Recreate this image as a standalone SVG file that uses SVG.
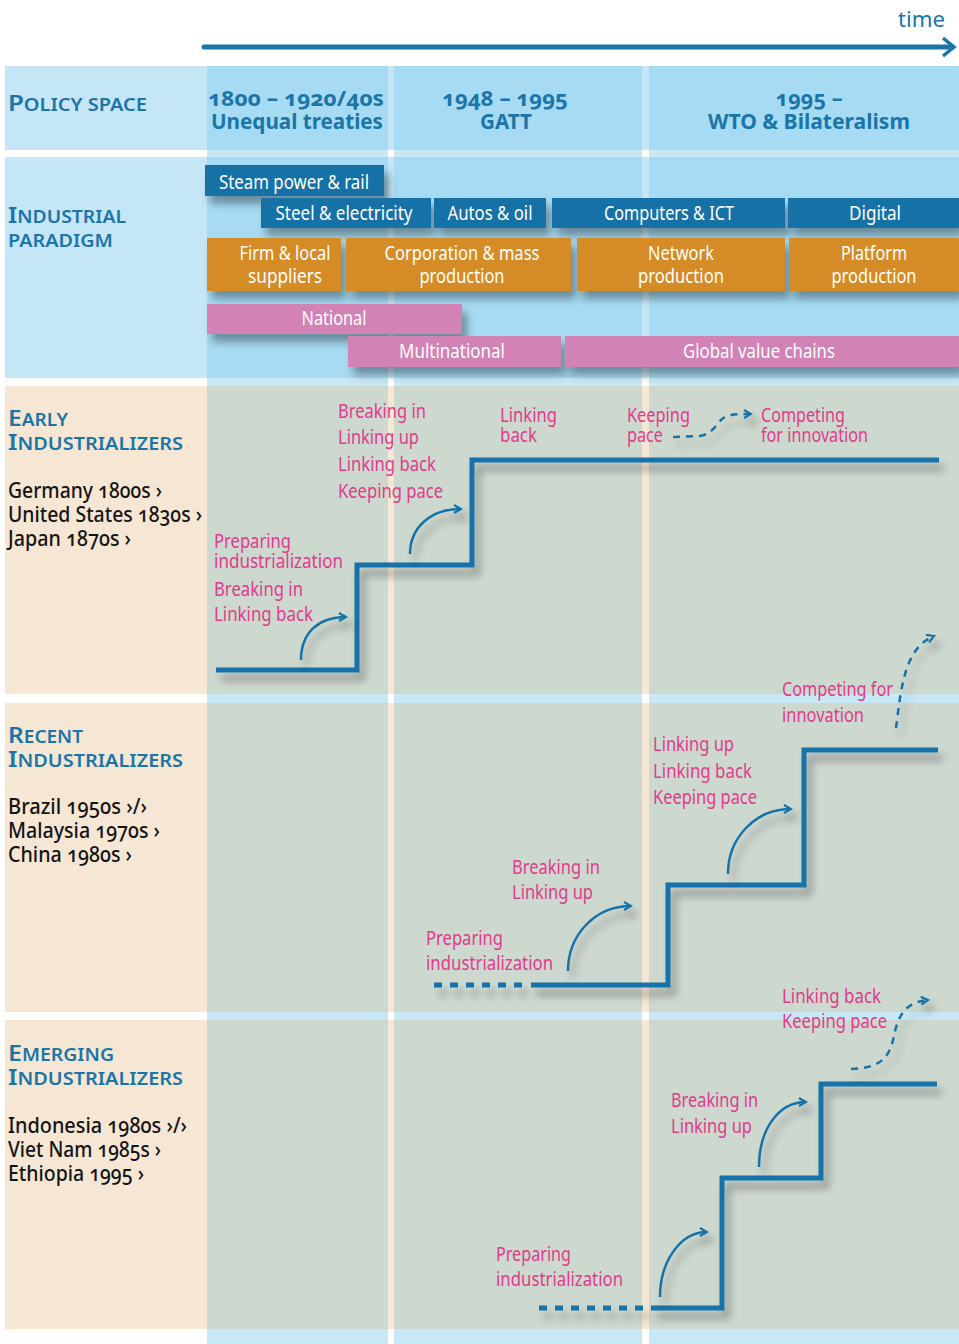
<svg xmlns="http://www.w3.org/2000/svg" width="959" height="1344" viewBox="0 0 959 1344">
<defs>
<style>
text{font-family:"Noto Sans","Liberation Sans",sans-serif;font-variant-numeric:oldstyle-nums;}
.hd{fill:#1b75a9;font-weight:700;font-size:22px;text-anchor:middle}
.lab{fill:#1b75a9;font-weight:600}
.cty{fill:#141414;font-size:22px;font-weight:500}
.pk{fill:#e23b8b;font-size:20px}
.bx{fill:#fff;font-size:19px;text-anchor:middle}
.blue{fill:#1271a6}.org{fill:#d58b25}.pnk{fill:#d382b5}
.stair{fill:none;stroke:#1472a8;stroke-width:5}
.arr{fill:none;stroke:#1472a8;stroke-width:2.5;marker-end:url(#ah)}
.dash{stroke-dasharray:7 6}
.dots{fill:none;stroke:#1472a8;stroke-width:5;stroke-dasharray:8 8}
</style>
<marker id="ah" viewBox="0 0 10 10" refX="8" refY="5" markerWidth="4" markerHeight="4" orient="auto" markerUnits="strokeWidth">
<path d="M1,1 L8,5 L1,9" fill="none" stroke="#1472a8" stroke-width="2.2" stroke-dasharray="none"/>
</marker>
<filter id="sh" filterUnits="userSpaceOnUse" x="0" y="0" width="959" height="1344">
<feGaussianBlur in="SourceAlpha" stdDeviation="4.5"/>
<feOffset dx="5" dy="8" result="o"/>
<feComponentTransfer><feFuncA type="linear" slope="0.36"/></feComponentTransfer>
<feMerge><feMergeNode/><feMergeNode in="SourceGraphic"/></feMerge>
</filter>
</defs>

<rect width="959" height="1344" fill="#fff"/>

<g id="background">
<rect x="207" y="66" width="181" height="1278" fill="#c8e8f6"/>
<rect x="394" y="66" width="248" height="1278" fill="#c8e8f6"/>
<rect x="649" y="66" width="310" height="1278" fill="#c8e8f6"/>
<rect x="5" y="66" width="954" height="84" fill="#c5e6f6"/>
<rect x="5" y="157" width="954" height="221" fill="#c5e6f6"/>
<g fill="#a6dbf3">
<rect x="207" y="66" width="181" height="84"/><rect x="394" y="66" width="248" height="84"/><rect x="649" y="66" width="310" height="84"/>
<rect x="207" y="157" width="181" height="221"/><rect x="394" y="157" width="248" height="221"/><rect x="649" y="157" width="310" height="221"/>
</g>
<g fill="#f6e7d5">
<rect x="5" y="386" width="954" height="308"/>
<rect x="5" y="703" width="954" height="309"/>
<rect x="5" y="1020" width="954" height="309"/>
</g>
<g fill="#cdd8cf">
<rect x="207" y="386" width="181" height="308"/><rect x="394" y="386" width="248" height="308"/><rect x="649" y="386" width="310" height="308"/>
<rect x="207" y="703" width="181" height="309"/><rect x="394" y="703" width="248" height="309"/><rect x="649" y="703" width="310" height="309"/>
<rect x="207" y="1020" width="181" height="309"/><rect x="394" y="1020" width="248" height="309"/><rect x="649" y="1020" width="310" height="309"/>
</g>
</g>

<g id="time-axis">
<line x1="204" y1="47" x2="952" y2="47" stroke="#1b75a9" stroke-width="5" stroke-linecap="round"/>
<path d="M943,38 L954,47 L943,56" fill="none" stroke="#1b75a9" stroke-width="3.5"/>
<text x="898" y="27" fill="#1b75a9" font-size="22" textLength="47" lengthAdjust="spacingAndGlyphs">time</text>
</g>

<g id="policy-space">
<text class="lab" x="8" y="111" textLength="139" lengthAdjust="spacingAndGlyphs"><tspan font-size="22">P</tspan><tspan font-size="17">OLICY SPACE</tspan></text>
<g id="period-1800">
<text class="hd" x="296" y="106" textLength="176" lengthAdjust="spacingAndGlyphs">1800 – 1920/40s</text>
<text class="hd" x="297" y="129" textLength="172" lengthAdjust="spacingAndGlyphs">Unequal treaties</text>
</g>
<g id="period-1948">
<text class="hd" x="505" y="106" textLength="126" lengthAdjust="spacingAndGlyphs">1948 – 1995</text>
<text class="hd" x="506" y="129" textLength="52" lengthAdjust="spacingAndGlyphs">GATT</text>
</g>
<g id="period-1995">
<text class="hd" x="809" y="106" textLength="67" lengthAdjust="spacingAndGlyphs">1995 –</text>
<text class="hd" x="809" y="129" textLength="202" lengthAdjust="spacingAndGlyphs">WTO &amp; Bilateralism</text>
</g>
</g>

<g id="industrial-paradigm">
<text class="lab" x="8" y="223" textLength="118" lengthAdjust="spacingAndGlyphs"><tspan font-size="22">I</tspan><tspan font-size="17">NDUSTRIAL</tspan></text>
<text class="lab" x="8" y="247" font-size="17" textLength="105" lengthAdjust="spacingAndGlyphs">PARADIGM</text>

<g id="steam" filter="url(#sh)"><rect class="blue" x="205" y="165" width="179" height="31"/></g>
<text class="bx" x="294" y="189" textLength="150" lengthAdjust="spacingAndGlyphs">Steam power &amp; rail</text>
<g id="boxes-tech" filter="url(#sh)">
<rect class="blue" x="261" y="198" width="170" height="30"/>
<rect class="blue" x="434" y="198" width="112" height="30"/>
<rect class="blue" x="552" y="198" width="233" height="30"/>
<rect class="blue" x="788" y="198" width="171" height="30"/>
</g>
<text class="bx" x="344" y="220" textLength="137" lengthAdjust="spacingAndGlyphs">Steel &amp; electricity</text>
<text class="bx" x="490" y="220" textLength="85" lengthAdjust="spacingAndGlyphs">Autos &amp; oil</text>
<text class="bx" x="669" y="220" textLength="130" lengthAdjust="spacingAndGlyphs">Computers &amp; ICT</text>
<text class="bx" x="875" y="220" textLength="52" lengthAdjust="spacingAndGlyphs">Digital</text>

<g id="boxes-org" filter="url(#sh)">
<rect class="org" x="207" y="238" width="134" height="53"/>
<rect class="org" x="346" y="238" width="225" height="53"/>
<rect class="org" x="577" y="238" width="208" height="53"/>
<rect class="org" x="789" y="238" width="170" height="53"/>
</g>
<text class="bx" x="285" y="260" textLength="91" lengthAdjust="spacingAndGlyphs">Firm &amp; local</text>
<text class="bx" x="285" y="283" textLength="74" lengthAdjust="spacingAndGlyphs">suppliers</text>
<text class="bx" x="462" y="260" textLength="155" lengthAdjust="spacingAndGlyphs">Corporation &amp; mass</text>
<text class="bx" x="462" y="283" textLength="85" lengthAdjust="spacingAndGlyphs">production</text>
<text class="bx" x="681" y="260" textLength="66" lengthAdjust="spacingAndGlyphs">Network</text>
<text class="bx" x="681" y="283" textLength="86" lengthAdjust="spacingAndGlyphs">production</text>
<text class="bx" x="874" y="260" textLength="66" lengthAdjust="spacingAndGlyphs">Platform</text>
<text class="bx" x="874" y="283" textLength="85" lengthAdjust="spacingAndGlyphs">production</text>

<g id="boxes-scope" filter="url(#sh)">
<rect class="pnk" x="207" y="304" width="255" height="30"/>
<rect class="pnk" x="348" y="336" width="213" height="31"/>
<rect class="pnk" x="565" y="336" width="394" height="31"/>
</g>
<text class="bx" x="334" y="325" textLength="65" lengthAdjust="spacingAndGlyphs">National</text>
<text class="bx" x="452" y="358" textLength="106" lengthAdjust="spacingAndGlyphs">Multinational</text>
<text class="bx" x="759" y="358" textLength="152" lengthAdjust="spacingAndGlyphs">Global value chains</text>
</g>

<g id="early-industrializers">
<text class="lab" x="8" y="426" textLength="60" lengthAdjust="spacingAndGlyphs"><tspan font-size="22">E</tspan><tspan font-size="17">ARLY</tspan></text>
<text class="lab" x="8" y="450" textLength="175" lengthAdjust="spacingAndGlyphs"><tspan font-size="22">I</tspan><tspan font-size="17">NDUSTRIALIZERS</tspan></text>
<text class="cty" x="8" y="498" textLength="154" lengthAdjust="spacingAndGlyphs">Germany 1800s ›</text>
<text class="cty" x="8" y="522" textLength="194" lengthAdjust="spacingAndGlyphs">United States 1830s ›</text>
<text class="cty" x="8" y="546" textLength="123" lengthAdjust="spacingAndGlyphs">Japan 1870s ›</text>
<g class="stage-labels">
<text class="pk" x="214" y="548" textLength="77" lengthAdjust="spacingAndGlyphs">Preparing</text>
<text class="pk" x="214" y="568" textLength="129" lengthAdjust="spacingAndGlyphs">industrialization</text>
<text class="pk" x="214" y="596" textLength="89" lengthAdjust="spacingAndGlyphs">Breaking in</text>
<text class="pk" x="214" y="621" textLength="99" lengthAdjust="spacingAndGlyphs">Linking back</text>
<text class="pk" x="338" y="418" textLength="88" lengthAdjust="spacingAndGlyphs">Breaking in</text>
<text class="pk" x="338" y="444" textLength="81" lengthAdjust="spacingAndGlyphs">Linking up</text>
<text class="pk" x="338" y="471" textLength="98" lengthAdjust="spacingAndGlyphs">Linking back</text>
<text class="pk" x="338" y="498" textLength="105" lengthAdjust="spacingAndGlyphs">Keeping pace</text>
<text class="pk" x="500" y="422" textLength="57" lengthAdjust="spacingAndGlyphs">Linking</text>
<text class="pk" x="500" y="442" textLength="37" lengthAdjust="spacingAndGlyphs">back</text>
<text class="pk" x="627" y="422" textLength="63" lengthAdjust="spacingAndGlyphs">Keeping</text>
<text class="pk" x="627" y="442" textLength="36" lengthAdjust="spacingAndGlyphs">pace</text>
<text class="pk" x="761" y="422" textLength="84" lengthAdjust="spacingAndGlyphs">Competing</text>
<text class="pk" x="761" y="442" textLength="107" lengthAdjust="spacingAndGlyphs">for innovation</text>
</g>
</g>

<g id="recent-industrializers">
<text class="lab" x="8" y="743" textLength="75" lengthAdjust="spacingAndGlyphs"><tspan font-size="22">R</tspan><tspan font-size="17">ECENT</tspan></text>
<text class="lab" x="8" y="767" textLength="175" lengthAdjust="spacingAndGlyphs"><tspan font-size="22">I</tspan><tspan font-size="17">NDUSTRIALIZERS</tspan></text>
<text class="cty" x="8" y="814" textLength="139" lengthAdjust="spacingAndGlyphs">Brazil 1950s ›/›</text>
<text class="cty" x="8" y="838" textLength="152" lengthAdjust="spacingAndGlyphs">Malaysia 1970s ›</text>
<text class="cty" x="8" y="862" textLength="124" lengthAdjust="spacingAndGlyphs">China 1980s ›</text>
<g class="stage-labels">
<text class="pk" x="426" y="945" textLength="77" lengthAdjust="spacingAndGlyphs">Preparing</text>
<text class="pk" x="426" y="970" textLength="127" lengthAdjust="spacingAndGlyphs">industrialization</text>
<text class="pk" x="512" y="874" textLength="88" lengthAdjust="spacingAndGlyphs">Breaking in</text>
<text class="pk" x="512" y="899" textLength="81" lengthAdjust="spacingAndGlyphs">Linking up</text>
<text class="pk" x="653" y="751" textLength="81" lengthAdjust="spacingAndGlyphs">Linking up</text>
<text class="pk" x="653" y="778" textLength="99" lengthAdjust="spacingAndGlyphs">Linking back</text>
<text class="pk" x="653" y="804" textLength="104" lengthAdjust="spacingAndGlyphs">Keeping pace</text>
<text class="pk" x="782" y="696" textLength="111" lengthAdjust="spacingAndGlyphs">Competing for</text>
<text class="pk" x="782" y="722" textLength="82" lengthAdjust="spacingAndGlyphs">innovation</text>
</g>
</g>

<g id="emerging-industrializers">
<text class="lab" x="8" y="1061" textLength="106" lengthAdjust="spacingAndGlyphs"><tspan font-size="22">E</tspan><tspan font-size="17">MERGING</tspan></text>
<text class="lab" x="8" y="1085" textLength="175" lengthAdjust="spacingAndGlyphs"><tspan font-size="22">I</tspan><tspan font-size="17">NDUSTRIALIZERS</tspan></text>
<text class="cty" x="8" y="1133" textLength="179" lengthAdjust="spacingAndGlyphs">Indonesia 1980s ›/›</text>
<text class="cty" x="8" y="1157" textLength="153" lengthAdjust="spacingAndGlyphs">Viet Nam 1985s ›</text>
<text class="cty" x="8" y="1181" textLength="136" lengthAdjust="spacingAndGlyphs">Ethiopia 1995 ›</text>
<g class="stage-labels">
<text class="pk" x="496" y="1261" textLength="75" lengthAdjust="spacingAndGlyphs">Preparing</text>
<text class="pk" x="496" y="1286" textLength="127" lengthAdjust="spacingAndGlyphs">industrialization</text>
<text class="pk" x="671" y="1107" textLength="87" lengthAdjust="spacingAndGlyphs">Breaking in</text>
<text class="pk" x="671" y="1133" textLength="81" lengthAdjust="spacingAndGlyphs">Linking up</text>
<text class="pk" x="782" y="1003" textLength="99" lengthAdjust="spacingAndGlyphs">Linking back</text>
<text class="pk" x="782" y="1028" textLength="105" lengthAdjust="spacingAndGlyphs">Keeping pace</text>
</g>
</g>

<g id="connectors">
<g filter="url(#sh)">
<path class="stair" d="M216,670 H357 V565 H472 V460 H939"/>
<path class="dots" d="M434,985 H526"/>
<path class="stair" d="M531,985 H668 V885 H804 V750 H938"/>
<path class="dots" d="M539,1308 H647"/>
<path class="stair" d="M651,1308 H722 V1178 H821 V1084 H937"/>
</g>
<g filter="url(#sh)">
<path class="arr" d="M301,660 C301,633 318,617 346,617"/>
<path class="arr" d="M410,554 C410,528 430,509 461,509"/>
<path class="arr dash" d="M673,437 L700,436 C712,434 716,425 722,419 C727,415 733,414 751,414"/>
<path class="arr" d="M568,971 C568,935 595,906 631,906"/>
<path class="arr" d="M728,874 C728,838 755,809 791,809"/>
<path class="arr dash" d="M896,728 C901,690 904,648 934,636"/>
<path class="arr" d="M660,1297 C660,1262 680,1232 707,1232"/>
<path class="arr" d="M759,1167 C759,1130 778,1102 806,1102"/>
<path class="arr dash" d="M851,1069 C875,1068 888,1062 893,1040 C898,1014 906,1002 928,1000"/>
</g>
</g>
</svg>
